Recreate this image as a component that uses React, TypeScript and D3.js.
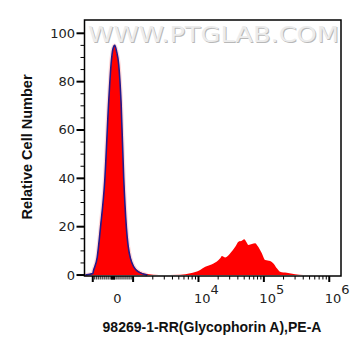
import React from 'react';
import * as d3 from 'd3';

// Stained sample histogram (fluorescence value, count)
const stainedX = [-1300, -1000, -965, -782, -619, -406, -208, -89, 0, 89, 180, 287, 406, 535, 668, 866, 1163, 1653, 2500,
  5270, 7500, 10600, 12700, 17000, 21500, 22800, 25700, 30600, 36500, 40900, 46100, 50000, 53700, 58200, 65600, 73600,
  79800, 93100, 104700, 124800, 140000, 158000, 177000, 224000, 300000, 400000];
const stainedY = [0, 0.8, 2, 7.5, 20, 39, 72, 87, 93, 95, 92, 87, 72, 40.5, 20, 7.5, 2, 0.4, 0,
  0.1, 0.7, 2.1, 3.4, 4.8, 6.9, 7.9, 7.3, 9.0, 11.7, 13.8, 14.2, 14.8, 13.8, 12.4, 12.8, 13.1,
  12.1, 9.0, 6.2, 5.8, 4.8, 2.8, 1.4, 0.95, 0.3, 0];

// Control histogram (blue outline)
const controlX = [-1300, -1000, -965, -782, -619, -406, -208, -89, 0, 89, 180, 287, 406, 535, 668, 866, 1163, 1653];
const controlY = [0, 0.6, 1.8, 7.2, 19.5, 39, 72, 87.5, 93.5, 95, 92.5, 87, 71, 40, 19.5, 7, 1.6, 0];

const yMajorTicks = [0, 20, 40, 60, 80, 100];
const yMinorTicks = [5, 10, 15, 25, 30, 35, 45, 50, 55, 65, 70, 75, 85, 90, 95];
const xMajorTicks = [-1000, 1000, 10000, 100000, 1000000];
const xMinorTicks = [
  -900, -800, -700, -600, -500, -400, -300, -200, -100, -75, -50, -25, 0, 25, 50, 75, 100,
  200, 300, 400, 500, 600, 700, 800, 900,
  2000, 3000, 4000, 5000, 6000, 7000, 8000, 9000,
  20000, 30000, 40000, 50000, 60000, 70000, 80000, 90000,
  200000, 300000, 400000, 500000, 600000, 700000, 800000, 900000,
];
const xLabelValues = [10000, 100000, 1000000];
const xLabelExps = ['4', '5', '6'];

const xTitle = '98269-1-RR(Glycophorin A),PE-A';
const yTitle = 'Relative Cell Number';
const watermark = 'WWW.PTGLAB.COM';

const LIN = 1000;
const K = 65.5 / 20.2;
function tf(v: number): number {
  if (Math.abs(v) <= LIN) return v / LIN;
  const s = Math.sign(v);
  return s * (1 + K * Math.log10(Math.abs(v) / LIN));
}

const L = 84.5, R = 341, T = 20, B = 276;

export default function App() {
  const x = d3.scaleLinear().domain([-1.41, 11.31]).range([L, R]);
  const y = d3.scaleLinear().domain([-0.4, 105.5]).range([B, T]);
  const px = (v: number) => x(tf(v));

  const stained = stainedX.map((v, i) => [v, stainedY[i]] as [number, number]);
  const control = controlX.map((v, i) => [v, controlY[i]] as [number, number]);

  const area = d3.area<[number, number]>()
    .x(d => px(d[0]))
    .y0(y(0))
    .y1(d => y(d[1]))
    .curve(d3.curveMonotoneX);
  const line = d3.line<[number, number]>()
    .x(d => px(d[0]))
    .y(d => y(d[1]))
    .curve(d3.curveMonotoneX);

  const tickFont = '"DejaVu Sans", sans-serif';
  const titleFont = '"Liberation Sans", Arial, sans-serif';

  return (
    <svg width={361} height={356} style={{ position: 'absolute', left: 0, top: 0, background: '#fff' }}>
      <defs>
        <clipPath id="plotclip">
          <rect x={L} y={T} width={R - L} height={B - T + 1} />
        </clipPath>
      </defs>
      {/* watermark */}
      <g clipPath="url(#plotclip)">
        <text x={89} y={43} fontFamily={tickFont} fontSize={22} fill="#b8b8b8" textLength={251} lengthAdjust="spacingAndGlyphs">{watermark}</text>
        <text x={88} y={42} fontFamily={tickFont} fontSize={22} fill="#ececec" textLength={251} lengthAdjust="spacingAndGlyphs">{watermark}</text>
      </g>
      <g clipPath="url(#plotclip)">
        <path d={line(control) || ''} fill="none" stroke="#ffb0b0" strokeWidth={4} opacity={0.5} />
        <path d={area(stained) || ''} fill="#ff0000" />
        <path d={line(control) || ''} fill="none" stroke="#231a8c" strokeWidth={1.6} />
      </g>
      {/* frame */}
      <rect x={L} y={T} width={R - L} height={B - T} fill="none" stroke="#000" strokeWidth={1.5} />
      {/* y ticks */}
      {yMajorTicks.map(t => (
        <g key={'ym' + t}>
          <line x1={L - 8} x2={L} y1={y(t)} y2={y(t)} stroke="#000" strokeWidth={2} />
          <text x={75} y={y(t) + 4.5} textAnchor="end" fontFamily={tickFont} fontSize={13} fill="#222">{t}</text>
        </g>
      ))}
      {yMinorTicks.map(t => (
        <line key={'yn' + t} x1={L - 4} x2={L} y1={y(t)} y2={y(t)} stroke="#000" strokeWidth={1} />
      ))}
      {/* x ticks */}
      {xMinorTicks.map(t => (
        <line key={'xn' + t} x1={px(t)} x2={px(t)} y1={B} y2={B + 3.5} stroke="#000" strokeWidth={1} />
      ))}
      {xMajorTicks.map(t => (
        <line key={'xm' + t} x1={px(t)} x2={px(t)} y1={B} y2={B + 6} stroke="#000" strokeWidth={2} />
      ))}
      <text x={px(0) + 4.5} y={302.5} textAnchor="middle" fontFamily={tickFont} fontSize={13} fill="#222">0</text>
      {xLabelValues.map((v, i) => (
        <text key={'xl' + v} x={px(v) - 4.5} y={302.5} fontFamily={tickFont} fontSize={13} fill="#222">
          10<tspan dy={-8.5} fontSize={13}>{xLabelExps[i]}</tspan>
        </text>
      ))}
      {/* titles */}
      <text x={212} y={332} textAnchor="middle" fontFamily={titleFont} fontWeight="bold" fontSize={14} fill="#111">{xTitle}</text>
      <text transform={`translate(32,147) rotate(-90)`} textAnchor="middle" fontFamily={titleFont} fontWeight="bold" fontSize={14.5} fill="#111">{yTitle}</text>
    </svg>
  );
}
